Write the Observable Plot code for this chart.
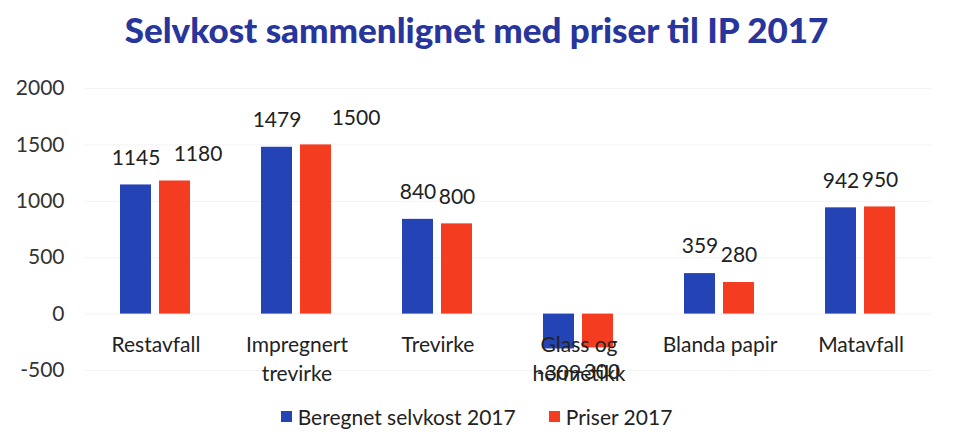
<!DOCTYPE html>
<html>
<head>
<meta charset="utf-8">
<script src="https://cdn.jsdelivr.net/npm/d3@7"></script>
<script src="https://cdn.jsdelivr.net/npm/@observablehq/plot@0.6"></script>
<style>
  body { margin: 0; background: #fff; font-family: Lato, "Open Sans", sans-serif; }
  #title { height: 58px; line-height: 58px; text-align: center; font-weight: 900; font-size: 35px; color: #27359c; white-space: nowrap; }
  #legend { display: flex; justify-content: center; align-items: center; gap: 33px; font-size: 21px; color: #222; height: 37px; }
  .item { display: flex; align-items: center; gap: 6px; }
  .sw { width: 11px; height: 11px; display: inline-block; }
</style>
</head>
<body>
<div id="title">Selvkost sammenlignet med priser til IP 2017</div>
<div id="chart"></div>
<div id="legend"></div>
<script>
const categories = ["Restavfall", "Impregnert\ntrevirke", "Trevirke", "Glass og\nhermetikk", "Blanda papir", "Matavfall"];
const series = ["Beregnet selvkost 2017", "Priser 2017"];
const selvkost = [1145, 1479, 840, -309, 359, 942];
const priser = [1180, 1500, 800, -300, 280, 950];
const yTicks = [-500, 0, 500, 1000, 1500, 2000];
const colors = ["#2443b5", "#f43c20"];

const data = [];
categories.forEach((c, i) => {
  data.push({cat: c, series: series[0], value: selvkost[i]});
  data.push({cat: c, series: series[1], value: priser[i]});
});

const shifted = new Set(["Restavfall|Priser 2017", "Impregnert\ntrevirke|Priser 2017"]);
const key = d => d.cat + "|" + d.series;
const fontFamily = "Lato, 'Open Sans', sans-serif";

const posLabel = (filter, dx) => Plot.text(data, {
  filter, fx: "cat", x: "series", y: "value", text: d => String(d.value),
  dy: -27, dx, fontSize: 21, fill: "#222", fontFamily
});

const chart = Plot.plot({
  width: 953,
  height: 340,
  marginTop: 30,
  marginBottom: 28,
  marginLeft: 83,
  marginRight: 21,
  style: {fontFamily, fontSize: "21px", color: "#333", background: "#fff"},
  fx: {domain: categories, padding: 0, axis: null},
  x: {domain: series, paddingInner: 0.2, paddingOuter: 0.87, axis: null},
  y: {domain: [-500, 2000], ticks: yTicks, tickFormat: d => String(d).replace("\u2212", "-"), tickSize: 0, tickPadding: 21, label: null, grid: false},
  color: {domain: series, range: colors},
  marks: [
    Plot.ruleY(yTicks, {stroke: "#f3f3f3", strokeWidth: 1}),
    Plot.barY(data, {fx: "cat", x: "series", y: "value", fill: "series"}),
    posLabel(d => d.value >= 0 && !shifted.has(key(d)), 0),
    posLabel(d => key(d) === "Restavfall|Priser 2017", 23),
    posLabel(d => key(d) === "Impregnert\ntrevirke|Priser 2017", 40),
    Plot.text(categories, {fx: d => d, y: d => 0, text: d => d, dy: 18, lineAnchor: "top", lineHeight: 1.35, fontSize: 21, fill: "#222", fontFamily}),
    Plot.text(data, {filter: d => d.value < 0, fx: "cat", x: "series", y: "value", text: d => String(d.value), dy: 24, fontSize: 21, fill: "#222", fontFamily})
  ]
});
document.getElementById("chart").appendChild(chart);

const legend = document.getElementById("legend");
series.forEach((s, i) => {
  const item = document.createElement("div");
  item.className = "item";
  item.innerHTML = `<span class="sw" style="background:${colors[i]}"></span><span>${s}</span>`;
  legend.appendChild(item);
});
</script>
</body>
</html>
